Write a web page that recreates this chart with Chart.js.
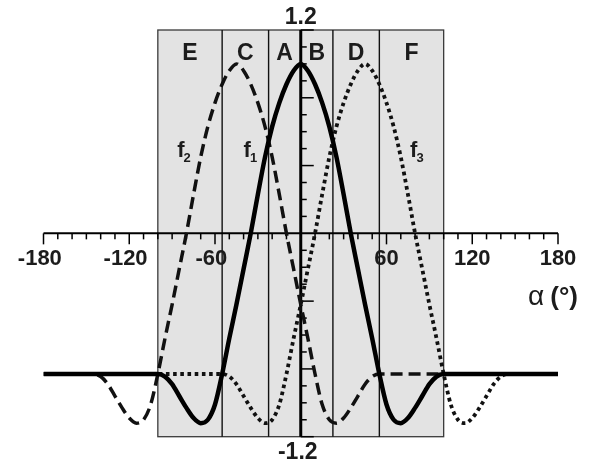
<!DOCTYPE html>
<html>
<head>
<meta charset="utf-8">
<script src="https://cdn.jsdelivr.net/npm/chart.js@4.4.1/dist/chart.umd.min.js"></script>
<style>
  html, body { margin: 0; padding: 0; background: #ffffff; }
  #wrap { width: 594px; height: 463px; }
</style>
</head>
<body>
<div id="wrap"><canvas id="c" width="594" height="463"></canvas></div>
<script>
// Angle grid (degrees)
const angles = [
  -180, -175, -170, -165, -160, -155, -150, -145, -140, -135, -130, -125, -120,
  -115, -110, -105, -100, -95, -90, -85, -80, -75, -70, -65, -60, -55, -50,
  -45, -40, -35, -30, -25, -20, -15, -10, -5, 0, 5, 10, 15, 20, 25, 30,
  35, 40, 45, 50, 55, 60, 65, 70, 75, 80, 85, 90, 95, 100, 105, 110,
  115, 120, 125, 130, 135, 140, 145, 150, 155, 160, 165, 170, 175, 180
];

// f1: centred at 0
const f1 = [
  -0.83, -0.83, -0.83, -0.83, -0.83, -0.83, -0.83, -0.83, -0.83, -0.83, -0.83, -0.83, -0.83,
  -0.83, -0.83, -0.83, -0.83, -0.845, -0.89, -0.96, -1.03, -1.09, -1.12, -1.10, -1.01, -0.83, -0.62,
  -0.42, -0.21, 0.00, 0.23, 0.45, 0.63, 0.77, 0.88, 0.96, 1.00, 0.96, 0.88, 0.77, 0.63, 0.45, 0.23,
  0.00, -0.21, -0.42, -0.62, -0.83, -1.01, -1.10, -1.12, -1.09, -1.03, -0.96, -0.89, -0.845, -0.83, -0.83, -0.83,
  -0.83, -0.83, -0.83, -0.83, -0.83, -0.83, -0.83, -0.83, -0.83, -0.83, -0.83, -0.83, -0.83, -0.83
];

// f2: centred at -45
const f2 = [
  -0.83, -0.83, -0.83, -0.83, -0.83, -0.83, -0.83, -0.83, -0.845, -0.89, -0.96, -1.03, -1.09,
  -1.12, -1.10, -1.01, -0.83, -0.62, -0.42, -0.21, 0.00, 0.23, 0.45, 0.63, 0.77, 0.88, 0.96,
  1.00, 0.96, 0.88, 0.77, 0.63, 0.45, 0.23, 0.00, -0.21, -0.42, -0.62, -0.83, -1.01, -1.10, -1.12, -1.09,
  -1.03, -0.96, -0.89, -0.845, -0.83, -0.83, -0.83, -0.83, -0.83, -0.83, -0.83, -0.83, -0.83, -0.83, -0.83, -0.83,
  -0.83, -0.83, -0.83, -0.83, -0.83, -0.83, -0.83, -0.83, -0.83, -0.83, -0.83, -0.83, -0.83, -0.83
];

// f3: centred at +45
const f3 = [
  -0.83, -0.83, -0.83, -0.83, -0.83, -0.83, -0.83, -0.83, -0.83, -0.83, -0.83, -0.83, -0.83,
  -0.83, -0.83, -0.83, -0.83, -0.83, -0.83, -0.83, -0.83, -0.83, -0.83, -0.83, -0.83, -0.83, -0.845,
  -0.89, -0.96, -1.03, -1.09, -1.12, -1.10, -1.01, -0.83, -0.62, -0.42, -0.21, 0.00, 0.23, 0.45, 0.63, 0.77,
  0.88, 0.96, 1.00, 0.96, 0.88, 0.77, 0.63, 0.45, 0.23, 0.00, -0.21, -0.42, -0.62, -0.83, -1.01, -1.10,
  -1.12, -1.09, -1.03, -0.96, -0.89, -0.845, -0.83, -0.83, -0.83, -0.83, -0.83, -0.83, -0.83, -0.83
];

// Axis labels and sectors
const xTickLabels = [-180, -120, -60, 60, 120, 180];
const yEndLabels = [1.2, -1.2];
const sectorEdges = [-100, -55, -22.5, 0, 22.5, 55, 100];
const sectorNames = ['E', 'C', 'A', 'B', 'D', 'F'];
const curveNames = [
  { base: 'f', sub: '2', at: -86.5 },
  { base: 'f', sub: '1', at: -40 },
  { base: 'f', sub: '3', at: 76.5 }
];
const curveLabelLevel = 0.45;

const FONT = '"Liberation Sans", Arial, Helvetica, sans-serif';
const INK = '#1c1c1c';

function pts(vals) {
  return angles.map((a, i) => ({ x: a, y: vals[i] }));
}

const decor = {
  id: 'decor',
  beforeDatasetsDraw(chart) {
    const { ctx, scales: { x, y } } = chart;
    const X = v => x.getPixelForValue(v);
    const Y = v => y.getPixelForValue(v);
    const top = Y(1.2), bot = Y(-1.2);
    ctx.save();

    // shaded sector band
    ctx.fillStyle = '#e3e3e3';
    ctx.fillRect(X(-100), top, X(100) - X(-100), bot - top);
    ctx.strokeStyle = '#3a3a3a';
    ctx.lineWidth = 1.3;
    ctx.strokeRect(X(-100), top, X(100) - X(-100), bot - top);

    // sector separators
    ctx.strokeStyle = '#111';
    ctx.lineWidth = 1.4;
    sectorEdges.forEach(e => {
      if (e === 0 || Math.abs(e) === 100) return;
      ctx.beginPath();
      ctx.moveTo(X(e), top);
      ctx.lineTo(X(e), bot);
      ctx.stroke();
    });

    // horizontal axis with ticks every 10 degrees
    const y0 = Y(0);
    ctx.strokeStyle = '#000';
    ctx.lineWidth = 2;
    ctx.beginPath();
    ctx.moveTo(X(-180), y0);
    ctx.lineTo(X(180), y0);
    ctx.stroke();
    ctx.lineWidth = 1.5;
    for (let a = -180; a <= 180; a += 10) {
      if (a === 0) continue;
      const len = (a % 60 === 0) ? 11 : 6;
      ctx.beginPath();
      ctx.moveTo(X(a), y0);
      ctx.lineTo(X(a), y0 + len);
      ctx.stroke();
    }

    // vertical axis with ticks every 0.1
    const x0 = X(0);
    ctx.lineWidth = 3;
    ctx.beginPath();
    ctx.moveTo(x0, top);
    ctx.lineTo(x0, bot);
    ctx.stroke();
    ctx.lineWidth = 1.5;
    for (let k = -12; k <= 12; k++) {
      if (k === 0) continue;
      const len = (k % 4 === 0) ? 13 : 6;
      const py = Y(k / 10);
      ctx.beginPath();
      ctx.moveTo(x0, py);
      ctx.lineTo(x0 + len, py);
      ctx.stroke();
    }
    ctx.restore();
  },
  afterDatasetsDraw(chart) {
    const { ctx, scales: { x, y } } = chart;
    const X = v => x.getPixelForValue(v);
    const Y = v => y.getPixelForValue(v);
    const top = Y(1.2), bot = Y(-1.2), y0 = Y(0), x0 = X(0);
    ctx.save();
    ctx.fillStyle = INK;

    // x tick labels: digits centred on the tick, minus sign hangs left
    ctx.font = 'bold 22px ' + FONT;
    ctx.textBaseline = 'alphabetic';
    ctx.textAlign = 'right';
    xTickLabels.forEach(v => {
      const s = String(v);
      const digits = String(Math.abs(v));
      const w = ctx.measureText(digits).width;
      ctx.fillText(s, X(v) + w / 2, y0 + 32);
    });

    // y end labels
    ctx.textAlign = 'center';
    ctx.font = 'bold 23px ' + FONT;
    ctx.fillText(String(yEndLabels[0]), x0, top - 6);
    ctx.fillText(String(yEndLabels[1]), x0 - 3, bot + 22);

    // axis title
    ctx.textAlign = 'right';
    ctx.font = 'bold 26px ' + FONT;
    const right = X(180) + 20;
    ctx.fillText('(\u00B0)', right, y0 + 72);
    const pw = ctx.measureText('(\u00B0)').width;
    ctx.font = '28px ' + FONT;
    ctx.fillText('\u03B1', right - pw - 6, y0 + 72);

    // sector letters
    ctx.textAlign = 'center';
    ctx.font = 'bold 23px ' + FONT;
    sectorNames.forEach((n, i) => {
      const mid = (sectorEdges[i] + sectorEdges[i + 1]) / 2;
      ctx.fillText(n, X(mid), top + 30);
    });

    // curve names with subscripts
    curveNames.forEach(c => {
      const px = X(c.at), py = Y(curveLabelLevel);
      ctx.textAlign = 'left';
      ctx.font = 'bold 22px ' + FONT;
      ctx.fillText(c.base, px, py);
      const fw = ctx.measureText(c.base).width;
      ctx.font = 'bold 13px ' + FONT;
      ctx.fillText(c.sub, px + fw - 1, py + 5);
    });
    ctx.restore();
  }
};

new Chart(document.getElementById('c'), {
  type: 'line',
  data: {
    datasets: [
      {
        label: 'f1', data: pts(f1),
        borderColor: '#000', borderWidth: 4.5, pointRadius: 0,
        cubicInterpolationMode: 'monotone', fill: false
      },
      {
        label: 'f2', data: pts(f2),
        borderColor: '#111', borderWidth: 3.5, borderDash: [12, 6], pointRadius: 0,
        cubicInterpolationMode: 'monotone', fill: false
      },
      {
        label: 'f3', data: pts(f3),
        borderColor: '#111', borderWidth: 3.8, borderDash: [3.6, 3.6], pointRadius: 0,
        cubicInterpolationMode: 'monotone', fill: false
      }
    ]
  },
  options: {
    responsive: false,
    animation: false,
    layout: { padding: { left: 43.5, right: 36, top: 30, bottom: 26.3 } },
    scales: {
      x: { type: 'linear', min: -180, max: 180, display: false },
      y: { type: 'linear', min: -1.2, max: 1.2, display: false }
    },
    plugins: { legend: { display: false }, tooltip: { enabled: false } }
  },
  plugins: [decor]
});
</script>
</body>
</html>
